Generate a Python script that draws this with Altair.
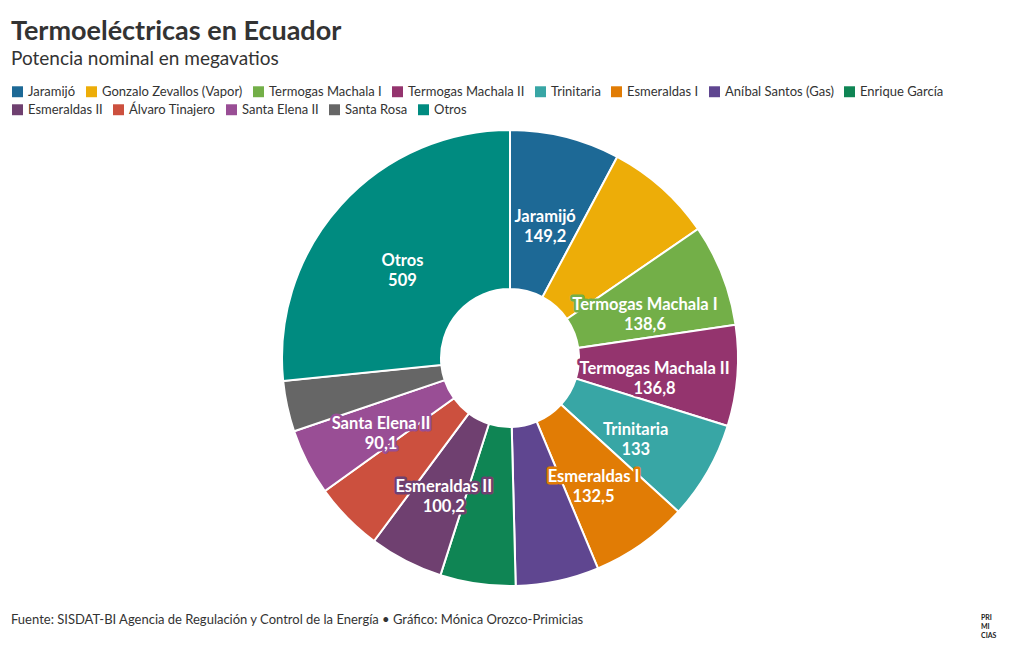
import altair as alt
import pandas as pd

names = ["Jaramijó", "Gonzalo Zevallos (Vapor)", "Termogas Machala I", "Termogas Machala II",
         "Trinitaria", "Esmeraldas I", "Aníbal Santos (Gas)", "Enrique García",
         "Esmeraldas II", "Álvaro Tinajero", "Santa Elena II", "Santa Rosa", "Otros"]
values = [149.2, 146, 138.6, 136.8, 133, 132.5, 113, 102, 100.2, 94, 90.1, 69, 509]
show_label = [True, False, True, True, True, True, False, False, True, False, True, False, True]
colors = ["#1D6996", "#EDAD08", "#73AF48", "#94346E", "#38A6A5", "#E17C05", "#5F4690",
          "#0F8554", "#6F4070", "#CC503E", "#994E95", "#666666", "#008B80"]

def fmt(v):
    return ("%g" % v).replace(".", ",")

df = pd.DataFrame({
    "name": names,
    "value": values,
    "order": list(range(len(names))),
    "label": [f"{n}\n{fmt(v)}" if s else "" for n, v, s in zip(names, values, show_label)],
})

FONT = "Lato"
W, H = 1004, 514
CX, CY = 502, 230

def legend(vals, y):
    return alt.Legend(title=None, orient="none", legendX=3, legendY=y, values=vals,
                      direction="horizontal", columnPadding=9, symbolType="square",
                      symbolSize=120, symbolStrokeWidth=0, labelFontSize=13,
                      labelColor="#333333", labelFont=FONT, labelOffset=4, labelLimit=300)

scale = alt.Scale(domain=names, range=colors)

base = alt.Chart(df).encode(
    theta=alt.Theta("value:Q", stack=True),
    order=alt.Order("order:Q", sort="ascending"),
)

arcs = base.mark_arc(outerRadius=228, innerRadius=69, stroke="white", strokeWidth=2).encode(
    color=alt.Color("name:N", scale=scale, legend=legend(names[:8], -43)),
    x=alt.value(CX), y=alt.value(CY)
)

halo = base.mark_text(radius=145, fontSize=16.5, fontWeight="bold", font=FONT, lineBreak="\n",
                      lineHeight=20, strokeWidth=5, strokeJoin="round").encode(
    text="label:N",
    stroke=alt.Stroke("name:N", scale=scale, legend=None),
    fill=alt.Fill("name:N", scale=scale, legend=legend(names[8:], -25)),
    x=alt.value(CX), y=alt.value(CY),
)

txt = base.mark_text(radius=145, fontSize=16.5, fontWeight="bold", font=FONT, lineBreak="\n",
                     lineHeight=20, color="white").encode(
    text="label:N", x=alt.value(CX), y=alt.value(CY),
)

footer_df = pd.DataFrame({"t": ["Fuente: SISDAT-BI Agencia de Regulación y Control de la Energía • Gráfico: Mónica Orozco-Primicias"]})
footer = alt.Chart(footer_df).mark_text(align="left", baseline="middle", fontSize=13, font=FONT,
                                        color="#333333").encode(
    text="t:N", x=alt.value(3), y=alt.value(492))

logo_df = pd.DataFrame({"t": ["PRI\nMI\nCIAS"]})
logo = alt.Chart(logo_df).mark_text(align="left", baseline="middle", fontSize=7, font=FONT,
                                    fontWeight="bold", lineBreak="\n", color="#222222").encode(
    text="t:N", x=alt.value(973), y=alt.value(490))

chart = alt.layer(arcs, halo, txt, footer, logo).resolve_scale(
    color="independent", stroke="independent", fill="independent"
).properties(
    width=W, height=H,
    padding={"left": 0, "top": 120, "right": 0, "bottom": 0},
    autosize=alt.AutoSizeParams(type="none"),
    title=alt.TitleParams(
        text="Termoeléctricas en Ecuador",
        subtitle="Potencia nominal en megavatios",
        anchor="start", frame="group", offset=15,
        font=FONT, fontSize=27, fontWeight="bold", color="#333333",
        subtitleFont=FONT, subtitleFontSize=19, subtitleColor="#333333", subtitlePadding=4,
        dx=3,
    ),
).configure_view(stroke=None)

chart.save("out.html", embed_options={"renderer": "svg", "actions": False})
